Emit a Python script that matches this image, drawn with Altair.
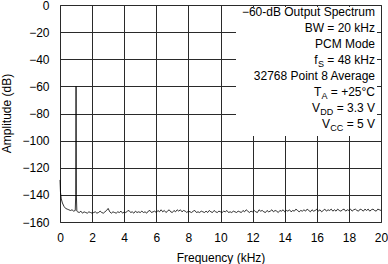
import altair as alt
import pandas as pd

# ---------------- data ----------------
FREQ_KHZ = [0.00, 0.03, 0.08, 0.15, 0.25, 0.35, 0.45, 0.55, 0.65, 0.75, 0.85, 0.95,
            0.98, 1.00, 1.02, 1.05,
            1.1, 1.2, 1.3, 1.4, 1.5, 1.6, 1.7, 1.8, 1.9, 2.0,
            2.1, 2.2, 2.3, 2.4, 2.5, 2.6, 2.7, 2.8, 2.9, 3.0,
            3.1, 3.2, 3.3, 3.4, 3.5, 3.6, 3.7, 3.8, 3.9, 4.0,
            4.1, 4.2, 4.3, 4.4, 4.5, 4.6, 4.7, 4.8, 4.9, 5.0,
            5.1, 5.2, 5.3, 5.4, 5.5, 5.6, 5.7, 5.8, 5.9, 6.0,
            6.1, 6.2, 6.3, 6.4, 6.5, 6.6, 6.7, 6.8, 6.9, 7.0,
            7.1, 7.2, 7.3, 7.4, 7.5, 7.6, 7.7, 7.8, 7.9, 8.0,
            8.1, 8.2, 8.3, 8.4, 8.5, 8.6, 8.7, 8.8, 8.9, 9.0,
            9.1, 9.2, 9.3, 9.4, 9.5, 9.6, 9.7, 9.8, 9.9, 10.0,
            10.1, 10.2, 10.3, 10.4, 10.5, 10.6, 10.7, 10.8, 10.9, 11.0,
            11.1, 11.2, 11.3, 11.4, 11.5, 11.6, 11.7, 11.8, 11.9, 12.0,
            12.1, 12.2, 12.3, 12.4, 12.5, 12.6, 12.7, 12.8, 12.9, 13.0,
            13.1, 13.2, 13.3, 13.4, 13.5, 13.6, 13.7, 13.8, 13.9, 14.0,
            14.1, 14.2, 14.3, 14.4, 14.5, 14.6, 14.7, 14.8, 14.9, 15.0,
            15.1, 15.2, 15.3, 15.4, 15.5, 15.6, 15.7, 15.8, 15.9, 16.0,
            16.1, 16.2, 16.3, 16.4, 16.5, 16.6, 16.7, 16.8, 16.9, 17.0,
            17.1, 17.2, 17.3, 17.4, 17.5, 17.6, 17.7, 17.8, 17.9, 18.0,
            18.1, 18.2, 18.3, 18.4, 18.5, 18.6, 18.7, 18.8, 18.9, 19.0,
            19.1, 19.2, 19.3, 19.4, 19.5, 19.6, 19.7, 19.8, 19.9, 20.0]
AMP_DB = [-129.0, -138.0, -143.0, -146.0, -148.5, -150.0, -150.5, -151.0, -151.5, -151.0, -152.0, -151.5,
          -140.0, -60.0, -140.0, -152.0,
          -152.5, -153.0, -152.0, -153.5, -152.5, -153.0, -153.5, -152.5, -153.0, -153.5,
          -153.0, -152.5, -153.5, -153.0, -152.0, -153.0, -153.5, -152.5, -151.5, -150.0,
          -152.5, -153.5, -152.5, -153.0, -153.5, -152.5, -153.0, -152.0, -153.5, -152.5,
          -153.0, -152.0, -151.5, -153.0, -152.5, -153.5, -152.0, -153.0, -152.5, -153.0,
          -152.0, -153.0, -152.5, -153.5, -152.0, -151.5, -153.0, -152.5, -152.0, -153.0,
          -151.5, -152.5, -151.0, -152.5, -151.5, -153.0, -152.0, -151.0, -152.5, -153.0,
          -151.5, -152.5, -151.0, -152.0, -151.0, -152.5, -151.5, -152.0, -153.0, -152.0,
          -152.5, -153.0, -152.0, -151.5, -153.0, -152.5, -153.0, -152.0, -152.5, -153.0,
          -152.0, -153.0, -151.5, -152.5, -153.0, -151.5, -152.5, -153.0, -152.0, -152.5,
          -153.0, -152.0, -152.5, -151.5, -153.0, -152.5, -153.0, -152.0, -152.5, -153.0,
          -152.0, -152.5, -153.0, -151.5, -152.5, -151.0, -152.0, -153.0, -152.0, -152.5,
          -151.5, -152.5, -153.0, -151.0, -152.0, -151.5, -152.5, -153.0, -151.5, -152.5,
          -152.0, -151.0, -152.5, -151.5, -152.0, -153.0, -151.5, -152.0, -151.0, -152.5,
          -151.5, -152.0, -151.0, -152.5, -151.5, -152.0, -150.5, -151.5, -152.5, -151.5,
          -152.0, -151.0, -152.0, -150.5, -151.5, -152.5, -151.0, -152.0, -151.5, -150.5,
          -152.0, -151.0, -152.5, -151.5, -150.5, -152.0, -151.0, -151.5, -150.5, -152.0,
          -151.0, -152.0, -150.5, -151.5, -152.0, -151.0, -150.5, -152.0, -151.0, -151.5,
          -150.5, -152.0, -151.0, -150.5, -151.5, -152.0, -150.5, -151.0, -152.0, -150.5,
          -151.5, -150.5, -152.0, -151.0, -150.5, -151.5, -152.0, -150.5, -151.0, -151.5]
X_TICKS = [0, 2, 4, 6, 8, 10, 12, 14, 16, 18, 20]
Y_TICKS = [-160, -140, -120, -100, -80, -60, -40, -20, 0]
X_TITLE = "Frequency (kHz)"
Y_TITLE = "Amplitude (dB)"
# each note line: list of (text, is_subscript)
NOTE_LINES = [
    [("\u221260-dB Output Spectrum", False)],
    [("BW = 20 kHz", False)],
    [("PCM Mode", False)],
    [("f", False), ("S", True), ("= 48 kHz", False)],
    [("32768 Point 8 Average", False)],
    [("T", False), ("A", True), ("= +25\u00b0C", False)],
    [("V", False), ("DD", True), ("= 3.3 V", False)],
    [("V", False), ("CC", True), ("= 5 V", False)],
]

FONT = "Liberation Sans"
W, H = 321, 217

df = pd.DataFrame({"freq": FREQ_KHZ, "amp": AMP_DB})

x_enc = alt.X("freq:Q",
              scale=alt.Scale(domain=[0, 20], nice=False, zero=False),
              axis=alt.Axis(values=X_TICKS, title=X_TITLE, ticks=False, domain=False,
                            grid=True, gridColor="#2a2a2a", gridWidth=1, gridOpacity=1,
                            labelFont=FONT, labelFontSize=12, labelColor="black",
                            labelPadding=10, labelFlush=False, labelOverlap=False,
                            titleFont=FONT, titleFontSize=12, titleFontWeight="normal",
                            titleColor="black", titleY=39, titleBaseline="alphabetic"))
y_enc = alt.Y("amp:Q",
              scale=alt.Scale(domain=[-160, 0], nice=False, zero=False),
              axis=alt.Axis(values=Y_TICKS, title=Y_TITLE, ticks=False, domain=False,
                            grid=True, gridColor="#2a2a2a", gridWidth=1, gridOpacity=1,
                            labelFont=FONT, labelFontSize=12, labelColor="black",
                            labelPadding=11, labelFlush=False, labelOverlap=False,
                            titleFont=FONT, titleFontSize=12, titleFontWeight="normal",
                            titleColor="black", titleAngle=270, titleX=-50, titleY=108,
                            titleAlign="center", titleBaseline="alphabetic"))

line = alt.Chart(df).mark_line(color="black", strokeWidth=0.8).encode(x=x_enc, y=y_enc)

one = alt.Data(values=[{"k": 0}])
box = alt.Chart(one).mark_rect(color="white").encode(
    x=alt.value(176), x2=alt.value(317), y=alt.value(2), y2=alt.value(131))

# annotation text pieces (right aligned, pieces laid out right-to-left)
MAIN_SIZE, SUB_SIZE = 12, 9
CHAR_W = {"=": 0.584, " ": 0.278, "+": 0.584, "\u00b0": 0.4, "C": 0.722, "V": 0.667,
          "k": 0.5, "H": 0.722, "z": 0.5, ".": 0.278, "S": 0.667, "A": 0.667, "D": 0.722}


def text_w(s, size):
    return sum(CHAR_W.get(c, 0.556) for c in s) * size


RIGHT = 315
layers = [line, box]
for i, parts in enumerate(NOTE_LINES):
    base_y = 12 + 16 * i + 4.3 - 5
    xr = RIGHT
    for j, (txt, sub) in enumerate(reversed(parts)):
        size = SUB_SIZE if sub else MAIN_SIZE
        yy = base_y + (2.5 if sub else 0)
        layers.append(alt.Chart(one).mark_text(
            text=txt, font=FONT, fontSize=size, color="black",
            align="right", baseline="alphabetic").encode(
            x=alt.value(xr), y=alt.value(yy)))
        xr -= text_w(txt, size)
        if sub:
            xr -= 0.3
        if len(parts) > 1 and j == 0:
            xr -= 3.3

chart = alt.layer(*layers).properties(
    width=W, height=H,
    autosize=alt.AutoSizeParams(type="none"),
    padding={"left": 60, "top": 5, "right": 7, "bottom": 42},
).configure_view(stroke="#444444", strokeWidth=1)

chart.save("out.html", embed_options={"renderer": "svg", "actions": False})
